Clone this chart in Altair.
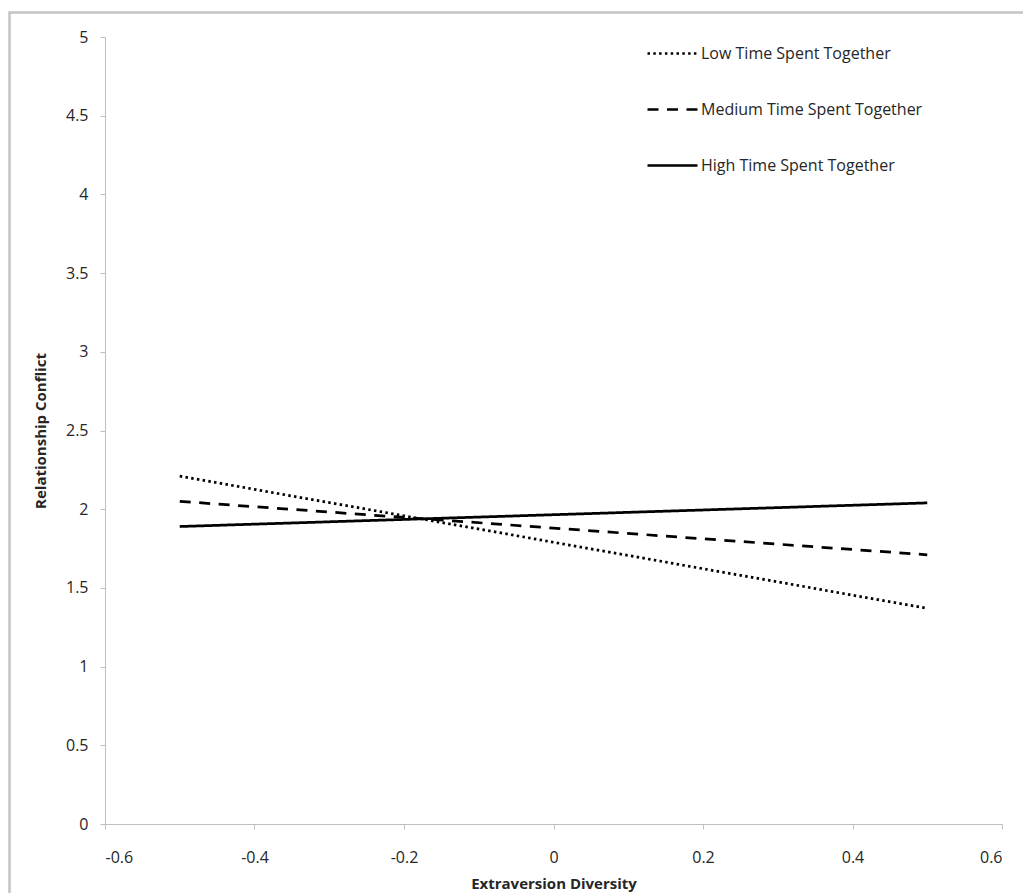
import altair as alt
import pandas as pd

# ---- data ----
x_vals = [-0.5, 0.5]
series_names = ["Low Time Spent Together", "Medium Time Spent Together", "High Time Spent Together"]
low_vals = [2.21, 1.37]
medium_vals = [2.05, 1.71]
high_vals = [1.89, 2.04]
x_ticks = [-0.6, -0.4, -0.2, 0, 0.2, 0.4, 0.6]
y_ticks = [0, 0.5, 1, 1.5, 2, 2.5, 3, 3.5, 4, 4.5, 5]

rows = []
for name, vals in zip(series_names, [low_vals, medium_vals, high_vals]):
    for xv, yv in zip(x_vals, vals):
        rows.append({"x": xv, "y": yv, "series": name})
df = pd.DataFrame(rows)

FONT = "Open Sans"
AXIS_GRAY = "#BFBFBF"
TEXT = "#262626"

lines = alt.Chart(df).mark_line(color="black", strokeWidth=2.75).encode(
    x=alt.X("x:Q",
            scale=alt.Scale(domain=[-0.6, 0.6], nice=False, zero=False),
            axis=alt.Axis(values=x_ticks, title="Extraversion Diversity",
                          labelExpr="toString(round(datum.value*10)/10)",
                          grid=False, domainColor=AXIS_GRAY, tickColor=AXIS_GRAY,
                          tickSize=5, labelPadding=20, labelFontSize=16,
                          labelColor=TEXT, labelFont=FONT,
                          titleFont=FONT, titleFontSize=15, titleFontWeight="bold",
                          titleColor=TEXT, titleY=59, titleBaseline="middle")),
    y=alt.Y("y:Q",
            scale=alt.Scale(domain=[0, 5], nice=False),
            axis=alt.Axis(values=y_ticks, title="Relationship Conflict",
                          labelExpr="toString(round(datum.value*10)/10)",
                          grid=False, domainColor=AXIS_GRAY, tickColor=AXIS_GRAY,
                          tickSize=5, labelPadding=12, labelFontSize=16,
                          labelColor=TEXT, labelFont=FONT,
                          titleFont=FONT, titleFontSize=15, titleFontWeight="bold",
                          titleColor=TEXT, titleX=-65, titleY=393.5,
                          titleAngle=270, titleBaseline="middle", titleAlign="center")),
    strokeDash=alt.StrokeDash("series:N",
        scale=alt.Scale(domain=series_names, range=[[2.5, 3.3], [11, 8.5], [1, 0]]),
        legend=alt.Legend(title=None, orient="none", legendX=541, legendY=-10,
                          symbolType="stroke", symbolSize=2500,
                          symbolStrokeWidth=2.5, symbolStrokeColor="black",
                          labelFont=FONT, labelFontSize=16, labelColor=TEXT,
                          labelLimit=0, labelOffset=2, rowPadding=21)),
)

border = alt.Chart(pd.DataFrame({"k": [0]})).mark_rect(
    fill=None, stroke="#C4C4C4", strokeWidth=2.5
).encode(
    x=alt.value(-95.5), x2=alt.value(960),
    y=alt.value(-24.5), y2=alt.value(900),
)

chart = alt.layer(border, lines).properties(
    width=897, height=787,
    autosize=alt.AutoSizeParams(type="none"),
    padding={"left": 97, "top": 29, "right": 21, "bottom": 69},
).configure(background="white", view=alt.ViewConfig(stroke=None))

chart.save("out.html", embed_options={"renderer": "svg", "actions": False})
